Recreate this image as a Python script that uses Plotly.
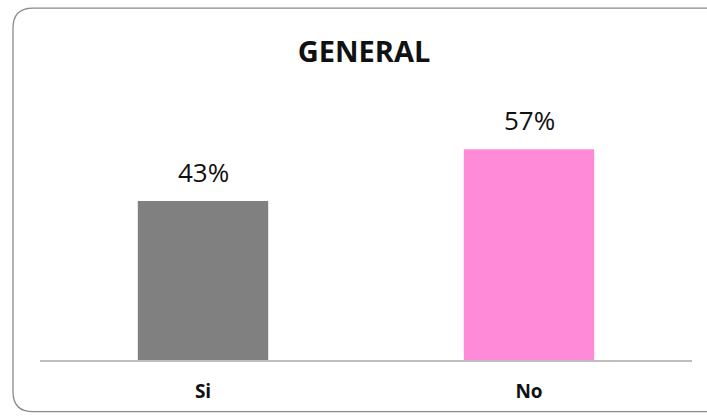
import plotly.graph_objects as go

# Survey result: share of answers per option
categories = ["Si", "No"]
values = [43, 57]
bar_colors = ["#808080", "#FF8BD8"]
value_labels = [f"{v}%" for v in values]

W, H = 707, 416
ML, MR, MT, MB = 40, 15, 30, 54
plot_w = W - ML - MR
plot_h = H - MT - MB
y_max = 89.2

fig = go.Figure()
fig.add_trace(go.Bar(
    x=categories,
    y=values,
    marker=dict(color=bar_colors, line=dict(width=0)),
    width=0.4,
    hoverinfo="skip",
))

# value labels above each bar
for cat, v, lab in zip(categories, values, value_labels):
    fig.add_annotation(
        x=cat, y=v, text=lab, showarrow=False,
        yanchor="bottom", yshift=9,
        font=dict(family="Open Sans, sans-serif", size=26, color="#111111"),
    )


def px_x(p):
    return (p - ML) / plot_w


def px_y(p):
    return (H - MB - p) / plot_h


# rounded chart frame
left, right, top, bottom, r = 13, 712, 8, 414, 20
rx, ry = r / plot_w, r / plot_h
x0, x1, y0, y1 = px_x(left), px_x(right), px_y(bottom), px_y(top)
frame = (
    f"M {x0 + rx} {y1} L {x1} {y1} L {x1} {y0} L {x0 + rx} {y0} "
    f"Q {x0} {y0} {x0} {y0 + ry} L {x0} {y1 - ry} Q {x0} {y1} {x0 + rx} {y1} Z"
)
fig.add_shape(type="path", path=frame, xref="paper", yref="paper",
              line=dict(color="#8a8a8a", width=1.3), layer="below")

fig.update_layout(
    width=W, height=H,
    margin=dict(l=ML, r=MR, t=MT, b=MB),
    paper_bgcolor="white", plot_bgcolor="white",
    showlegend=False,
    bargap=0.6,
    title=dict(
        text="<b>GENERAL</b>", x=364 / W, xanchor="center",
        y=1 - 52 / H, yanchor="middle",
        font=dict(family="Open Sans, sans-serif", size=29, color="#111111"),
    ),
    xaxis=dict(
        showline=True, linecolor="#bdbdbd", linewidth=1.5,
        showgrid=False, zeroline=False, ticks="",
        tickfont=dict(family="Open Sans, sans-serif", size=19, color="#111111", weight="bold"),
        ticklabelstandoff=13,
    ),
    yaxis=dict(
        range=[0, y_max], visible=False, showgrid=False, zeroline=False,
    ),
)

fig.write_html("out.html")
